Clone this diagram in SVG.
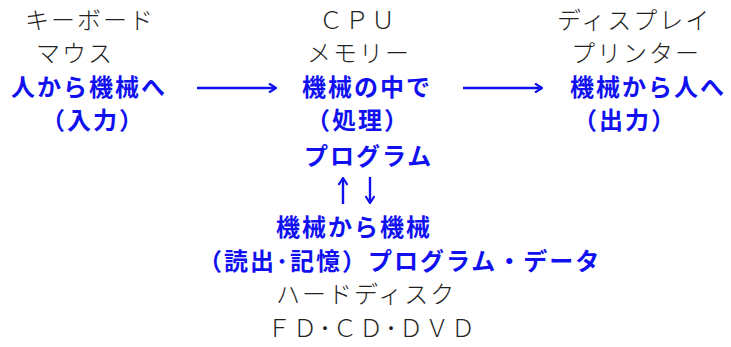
<svg xmlns="http://www.w3.org/2000/svg" width="731" height="347" viewBox="0 0 731 347">
<style>
.k{font-family:"Noto Sans CJK JP","Noto Sans CJK SC",sans-serif;font-size:24px;fill:#222;font-weight:300;letter-spacing:2px}
.b{font-family:"Noto Sans CJK JP","Noto Sans CJK SC",sans-serif;font-size:24px;fill:#1010f0;font-weight:700;letter-spacing:2px}
.c{stroke:#1010f0;stroke-width:2.4;fill:none}
</style>
<defs>
<marker id="ah" viewBox="0 0 10 10" refX="9" refY="5" markerWidth="10" markerHeight="10" markerUnits="userSpaceOnUse" orient="auto">
<path d="M2,0.5 L9,5 L2,9.5" fill="none" stroke="#1010f0" stroke-width="2.2"/>
</marker>
</defs>
<rect width="731" height="347" fill="#fff"/>
<g id="input">
<text class="k" x="25" y="29">キーボード</text>
<text class="k" x="36" y="62">マウス</text>
<text class="b" x="11" y="96">人から機械へ</text>
<text class="b" x="41" y="129">（入力）</text>
</g>
<g id="process">
<text class="k" x="319" y="29">ＣＰＵ</text>
<text class="k" x="307" y="62">メモリー</text>
<text class="b" x="302" y="96">機械の中で</text>
<text class="b" x="306" y="129">（処理）</text>
<text class="b" x="304" y="165">プログラム</text>
</g>
<g id="output">
<text class="k" x="557" y="29">ディスプレイ</text>
<text class="k" x="571" y="62">プリンター</text>
<text class="b" x="570" y="96" letter-spacing="3">機械から人へ</text>
<text class="b" x="573" y="129">（出力）</text>
</g>
<g id="storage">
<text class="b" x="276" y="236">機械から機械</text>
<text class="b" x="198" y="270">（読出･記憶）プログラム・データ</text>
<text class="k" x="276" y="303">ハードディスク</text>
<text class="k" x="267" y="337">ＦＤ･ＣＤ･ＤＶＤ</text>
</g>
<g id="connectors">
<line class="c" x1="197" y1="88" x2="276" y2="88" marker-end="url(#ah)"/>
<line class="c" x1="463" y1="88" x2="542" y2="88" marker-end="url(#ah)"/>
<line class="c" x1="343" y1="204" x2="343" y2="178" marker-end="url(#ah)"/>
<line class="c" x1="370" y1="177" x2="370" y2="203" marker-end="url(#ah)"/>
</g>
</svg>
